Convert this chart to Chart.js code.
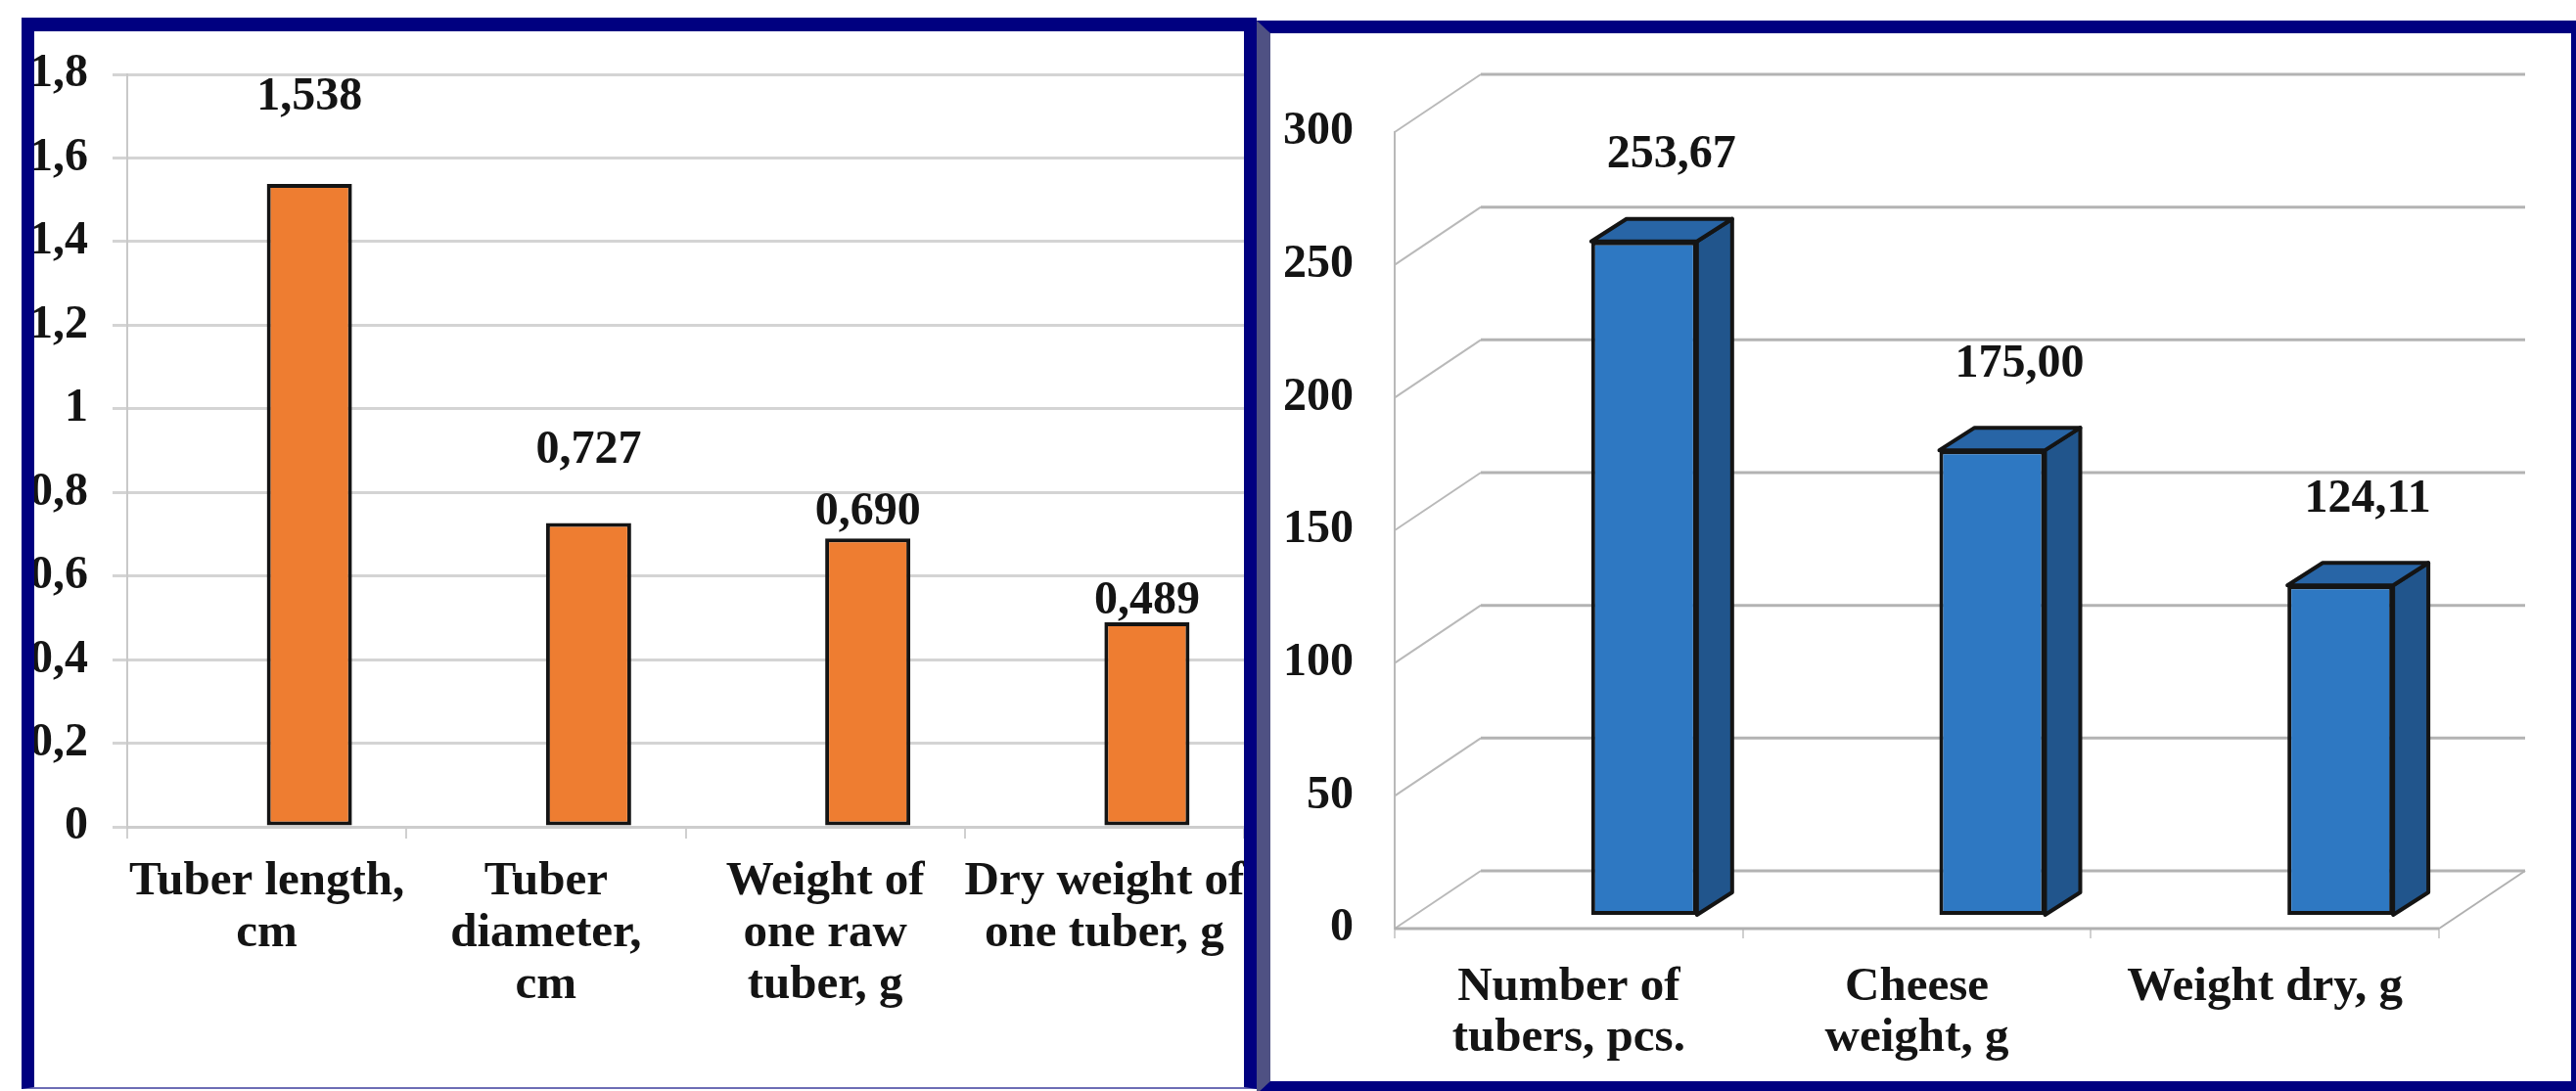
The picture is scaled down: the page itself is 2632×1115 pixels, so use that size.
<!DOCTYPE html>
<html>
<head>
<meta charset="utf-8">
<script src="https://cdn.jsdelivr.net/npm/chart.js@4.4.1/dist/chart.umd.min.js"></script>
<style>
  html, body { margin: 0; padding: 0; background: #fff; overflow: hidden; }
  #page { position: relative; width: 2632px; height: 1115px; overflow: hidden; background: #fff; }
  .layer { position: absolute; left: 0; top: 0; width: 2632px; height: 1115px; }
  .frame { position: absolute; box-sizing: border-box; pointer-events: none; z-index: 5; border-style: solid; }
  #frameLeft {
    left: 22px; top: 18px; width: 1262px; height: 1095px;
    border-color: #000080; border-width: 14px 13px 2px 13px; border-bottom-color: #6d6db5;
  }
  #frameRight {
    left: 1284px; top: 21px; width: 1356px; height: 1097px;
    border-color: #000080; border-width: 13px 13px 13px 14px; border-left-color: #4f5183;
  }
</style>
</head>
<body>
<div id="page">
  <div class="layer"><canvas id="traitsChart"></canvas></div>
  <div class="layer"><canvas id="yieldChart"></canvas></div>
  <div class="frame" id="frameLeft"></div>
  <div class="frame" id="frameRight"></div>
</div>
<script>
// ---- Tuber traits (left panel) ----
const traitCategories = [
  ["Tuber length,", "cm"],
  ["Tuber", "diameter,", "cm"],
  ["Weight of", "one raw", "tuber, g"],
  ["Dry weight of", "one tuber, g"]
];
const traitValues = [1.538, 0.727, 0.690, 0.489];
const traitTicks = [0, 0.2, 0.4, 0.6, 0.8, 1, 1.2, 1.4, 1.6, 1.8];
// how far each value label sits above its column (px)
const traitLabelLift = [88, 74, 27, 21];

// ---- Yield per plant (right panel) ----
const yieldCategories = [
  ["Number of", "tubers, pcs."],
  ["Cheese", "weight, g"],
  "Weight dry, g"
];
const yieldValues = [253.67, 175.00, 124.11];
const yieldTicks = [0, 50, 100, 150, 200, 250, 300];

const FONT = "'Liberation Serif', 'Times New Roman', serif";
const INK = '#141414';
Chart.defaults.font.family = FONT;
Chart.defaults.color = INK;

const commaNum = (v, digits) => v.toFixed(digits).replace('.', ',');

// Columns sit in the second slot of their category, as in the source workbook.
const traitColumns = {
  id: 'traitColumns',
  beforeDatasetsDraw(chart) {
    const bar = chart.getDatasetMeta(0).data[0];
    chart.ctx.save();
    chart.ctx.translate(bar.width / 2, 0);
  },
  afterDatasetsDraw(chart) {
    const ctx = chart.ctx;
    ctx.restore();
    const bars = chart.getDatasetMeta(0).data;
    ctx.save();
    ctx.font = `bold 48px ${FONT}`;
    ctx.fillStyle = INK;
    ctx.textAlign = 'center';
    ctx.textBaseline = 'middle';
    bars.forEach((bar, i) => {
      const { x, y, width } = bar.getProps(['x', 'y', 'width'], true);
      ctx.fillText(commaNum(traitValues[i], 3), x + width / 2, y - traitLabelLift[i]);
    });
    ctx.restore();
  }
};

new Chart(document.getElementById('traitsChart'), {
  type: 'bar',
  data: {
    labels: traitCategories,
    datasets: [{
      data: traitValues,
      backgroundColor: '#EE7D31',
      borderColor: INK,
      borderWidth: 4,
      borderSkipped: false,
      categoryPercentage: 0.61,
      barPercentage: 0.5,
      clip: false
    }]
  },
  options: {
    responsive: true,
    maintainAspectRatio: false,
    animation: false,
    events: [],
    layout: { padding: { top: 76, right: 1361, left: 0, bottom: 0 } },
    plugins: { legend: { display: false }, tooltip: { enabled: false } },
    scales: {
      x: {
        grid: { display: true, drawOnChartArea: false, drawTicks: true, tickLength: 12, color: '#d0d0d0', lineWidth: 2 },
        border: { display: true, color: '#cdcdcd', width: 3 },
        ticks: {
          color: INK, padding: 18, maxRotation: 0, autoSkip: false,
          font: { size: 49, weight: 'bold', lineHeight: 1.08 }
        },
        afterFit(scale) { scale.height = 270; }
      },
      y: {
        min: traitTicks[0],
        max: traitTicks[traitTicks.length - 1],
        ticks: {
          stepSize: traitTicks[1] - traitTicks[0],
          padding: 25,
          color: INK,
          font: { size: 48, weight: 'bold' },
          callback: v => {
            const r = Math.round(v * 10) / 10;
            return commaNum(r, Number.isInteger(r) ? 0 : 1);
          }
        },
        grid: { color: '#d4d4d4', lineWidth: 3, tickLength: 15 },
        border: { display: true, color: '#c9c9c9', width: 2 },
        afterFit(scale) { scale.width = 130; }
      }
    }
  },
  plugins: [traitColumns]
});

// 3-D look of the yield chart: side wall, back wall, floor and column depth.
const WALL = { dx: 88, dy: -59 };
const COLUMN = { dx: 23, dy: -14, depthX: 36, depthY: -23 };

const yieldBoxes = {
  id: 'yieldBoxes',
  beforeDatasetsDraw(chart) {
    const { ctx, chartArea: a, scales: { y } } = chart;
    const line = (x1, y1, x2, y2) => { ctx.beginPath(); ctx.moveTo(x1, y1); ctx.lineTo(x2, y2); ctx.stroke(); };
    ctx.save();
    y.ticks.forEach(t => {
      const py = y.getPixelForValue(t.value);
      ctx.strokeStyle = '#b9b9b9'; ctx.lineWidth = 2;
      line(a.left, py, a.left + WALL.dx, py + WALL.dy);
      ctx.strokeStyle = '#b3b3b3'; ctx.lineWidth = 3;
      line(a.left + WALL.dx, py + WALL.dy, a.right + WALL.dx, py + WALL.dy);
    });
    const y0 = y.getPixelForValue(0);
    ctx.strokeStyle = '#b0b0b0'; ctx.lineWidth = 3;
    line(a.left, y0, a.right, y0);
    ctx.lineWidth = 2;
    line(a.right, y0, a.right + WALL.dx, y0 + WALL.dy);
    ctx.restore();

    const bar = chart.getDatasetMeta(0).data[0];
    ctx.save();
    ctx.translate(bar.width / 2 + COLUMN.dx, COLUMN.dy);
  },
  afterDatasetsDraw(chart) {
    const ctx = chart.ctx;
    const bars = chart.getDatasetMeta(0).data;
    ctx.lineJoin = 'round';
    ctx.lineWidth = 4;
    ctx.strokeStyle = INK;
    bars.forEach(bar => {
      const { x, y, base, width } = bar.getProps(['x', 'y', 'base', 'width'], true);
      const l = x - width / 2, r = x + width / 2;
      const dx = COLUMN.depthX, dy = COLUMN.depthY;
      ctx.beginPath();
      ctx.moveTo(r, y); ctx.lineTo(r + dx, y + dy); ctx.lineTo(r + dx, base + dy); ctx.lineTo(r, base);
      ctx.closePath();
      ctx.fillStyle = '#21558C';
      ctx.fill(); ctx.stroke();
      ctx.beginPath();
      ctx.moveTo(l, y); ctx.lineTo(l + dx, y + dy); ctx.lineTo(r + dx, y + dy); ctx.lineTo(r, y);
      ctx.closePath();
      ctx.fillStyle = '#2865A6';
      ctx.fill(); ctx.stroke();
    });
    ctx.restore();

    ctx.save();
    ctx.font = `bold 48px ${FONT}`;
    ctx.fillStyle = INK;
    ctx.textAlign = 'center';
    ctx.textBaseline = 'middle';
    bars.forEach((bar, i) => {
      const { x, y, width } = bar.getProps(['x', 'y', 'width'], true);
      ctx.fillText(commaNum(yieldValues[i], 2), x + width / 2 + COLUMN.dx + 28, y + COLUMN.dy - 88);
    });
    ctx.restore();
  }
};

new Chart(document.getElementById('yieldChart'), {
  type: 'bar',
  data: {
    labels: yieldCategories,
    datasets: [{
      data: yieldValues,
      backgroundColor: '#2E78C2',
      borderColor: INK,
      borderWidth: 4,
      borderSkipped: false,
      categoryPercentage: 0.6,
      barPercentage: 0.506,
      clip: false
    }]
  },
  options: {
    responsive: true,
    maintainAspectRatio: false,
    animation: false,
    events: [],
    layout: { padding: { top: 135, right: 140, left: 0, bottom: 0 } },
    plugins: { legend: { display: false }, tooltip: { enabled: false } },
    scales: {
      x: {
        grid: { display: true, drawOnChartArea: false, drawTicks: true, tickLength: 10, color: '#d0d0d0', lineWidth: 2 },
        border: { display: false },
        ticks: {
          color: INK, padding: 24, maxRotation: 0, autoSkip: false,
          font: { size: 49, weight: 'bold', lineHeight: 1.07 }
        },
        afterFit(scale) { scale.height = 166; }
      },
      y: {
        min: yieldTicks[0],
        max: yieldTicks[yieldTicks.length - 1],
        ticks: {
          stepSize: yieldTicks[1] - yieldTicks[0],
          padding: 42,
          color: INK,
          font: { size: 48, weight: 'bold' }
        },
        grid: { display: false, drawTicks: false },
        border: { display: true, color: '#b9b9b9', width: 2 },
        afterFit(scale) { scale.width = 1425; }
      }
    }
  },
  plugins: [yieldBoxes]
});
</script>
</body>
</html>
